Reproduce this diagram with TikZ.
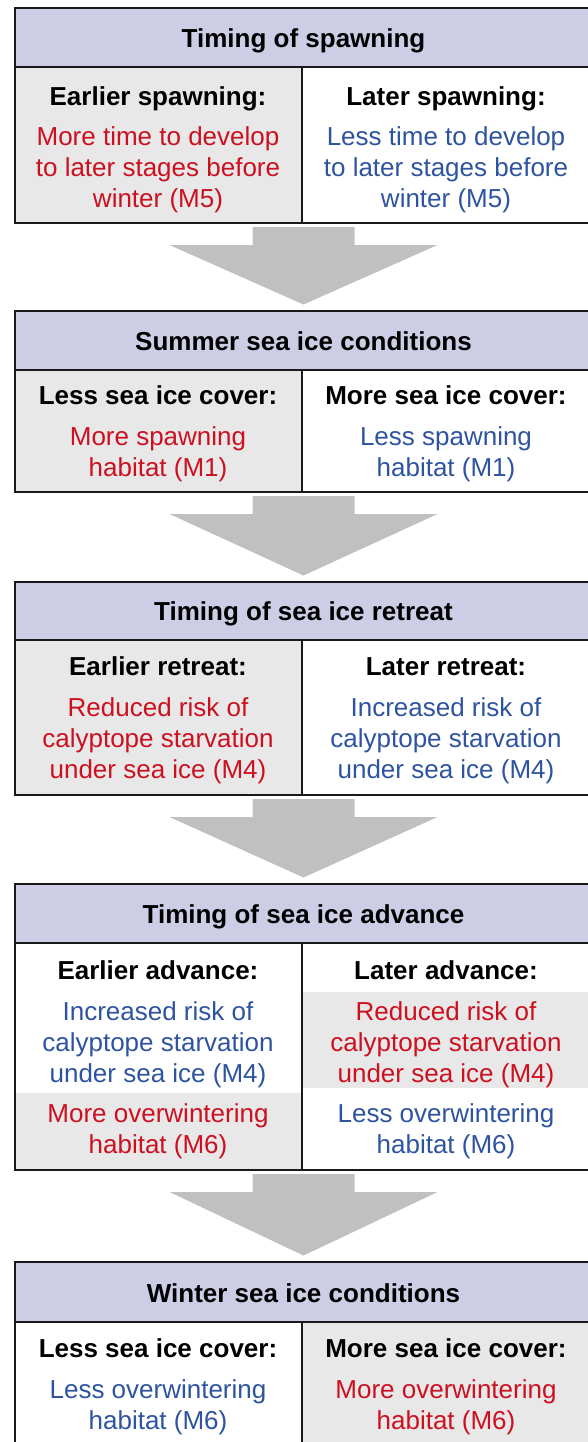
\documentclass[tikz,border=0pt]{standalone}
\usepackage{fontspec}
\setmainfont{Liberation Sans}
\usetikzlibrary{calc}
\definecolor{headfill}{RGB}{205,205,230}
\definecolor{cellgray}{RGB}{232,232,232}
\definecolor{arrowgray}{RGB}{192,192,192}
\definecolor{redtxt}{RGB}{204,16,32}
\definecolor{bluetxt}{RGB}{46,84,160}
\definecolor{linec}{RGB}{25,25,25}
\newcommand\blockarrow[2]{%
  \fill[arrowgray] ($(#1.south)+(-51,4)$) -- ($(#1.south)+(51,4)$) --
    ($(#1.south)+(51,22)$) -- ($(#1.south)+(134,22)$) --
    ($(#2.north)+(0,-6.5)$) -- ($(#1.south)+(-134,22)$) --
    ($(#1.south)+(-51,22)$) -- cycle;}
\begin{document}
\begin{tikzpicture}[x=1pt,y=-1pt,
  frame/.style={draw=linec,line width=2pt,minimum width=577pt,anchor=north west,inner sep=0pt,outer sep=0pt},
  rule/.style={draw=linec,line width=2pt},
  titletxt/.style={font=\fontsize{26}{31}\selectfont\bfseries,inner sep=0pt,align=center},
  redbody/.style={font=\fontsize{26}{31}\selectfont,text=redtxt,inner sep=0pt,align=center},
  bluebody/.style={font=\fontsize{26}{31}\selectfont,text=bluetxt,inner sep=0pt,align=center}]
\clip (0,0) rectangle (588,1442);
\useasboundingbox (0,0) rectangle (588,1442);
\fill[white] (0,0) rectangle (588,1442);
% ---------- box 1
\fill[headfill] (15,8) rectangle (592,67);
\fill[cellgray] (15,67) rectangle (302,223);
\node[frame,minimum height=215pt] (b1) at (15,8) {};
\draw[rule] (15,67) -- (592,67);
\draw[rule] (302,67) -- (302,223);
\node[titletxt] (t1) at (303.5,41) {\strut Timing of spawning};
\node[titletxt] (l1h) at (158,99) {\strut Earlier spawning:};
\node[titletxt] (r1h) at (446,99) {\strut Later spawning:};
\node[redbody] (l1b) at (158,170) {\strut More time to develop\\\strut to later stages before\\\strut winter (M5)};
\node[bluebody] (r1b) at (446,170) {\strut Less time to develop\\\strut to later stages before\\\strut winter (M5)};
% ---------- box 2
\fill[headfill] (15,311) rectangle (592,370);
\fill[cellgray] (15,370) rectangle (302,492);
\node[frame,minimum height=181pt] (b2) at (15,311) {};
\draw[rule] (15,370) -- (592,370);
\draw[rule] (302,370) -- (302,492);
\node[titletxt] (t2) at (303.5,344) {\strut Summer sea ice conditions};
\node[titletxt] (l2h) at (158,398) {\strut Less sea ice cover:};
\node[titletxt] (r2h) at (446,398) {\strut More sea ice cover:};
\node[redbody] (l2b) at (158,454.5) {\strut More spawning\\\strut habitat (M1)};
\node[bluebody] (r2b) at (446,454.5) {\strut Less spawning\\\strut habitat (M1)};
% ---------- box 3
\fill[headfill] (15,582) rectangle (592,640);
\fill[cellgray] (15,640) rectangle (302,795);
\node[frame,minimum height=213pt] (b3) at (15,582) {};
\draw[rule] (15,640) -- (592,640);
\draw[rule] (302,640) -- (302,795);
\node[titletxt] (t3) at (303.5,614) {\strut Timing of sea ice retreat};
\node[titletxt] (l3h) at (158,669) {\strut Earlier retreat:};
\node[titletxt] (r3h) at (446,669) {\strut Later retreat:};
\node[redbody] (l3b) at (158,741) {\strut Reduced risk of\\\strut calyptope starvation\\\strut under sea ice (M4)};
\node[bluebody] (r3b) at (446,741) {\strut Increased risk of\\\strut calyptope starvation\\\strut under sea ice (M4)};
% ---------- box 4
\fill[headfill] (15,884) rectangle (592,943);
\fill[cellgray] (302,992) rectangle (592,1088);
\fill[cellgray] (15,1093) rectangle (302,1170);
\node[frame,minimum height=286pt] (b4) at (15,884) {};
\draw[rule] (15,943) -- (592,943);
\draw[rule] (302,943) -- (302,1170);
\node[titletxt] (t4) at (303.5,917) {\strut Timing of sea ice advance};
\node[titletxt] (l4h) at (158,973) {\strut Earlier advance:};
\node[titletxt] (r4h) at (446,973) {\strut Later advance:};
\node[bluebody] (l4a) at (158,1045) {\strut Increased risk of\\\strut calyptope starvation\\\strut under sea ice (M4)};
\node[redbody] (r4a) at (446,1045) {\strut Reduced risk of\\\strut calyptope starvation\\\strut under sea ice (M4)};
\node[redbody] (l4b) at (158,1132) {\strut More overwintering\\\strut habitat (M6)};
\node[bluebody] (r4b) at (446,1132) {\strut Less overwintering\\\strut habitat (M6)};
% ---------- box 5
\fill[headfill] (15,1262) rectangle (592,1322);
\fill[cellgray] (302,1322) rectangle (592,1460);
\node[frame,minimum height=198pt] (b5) at (15,1262) {};
\draw[rule] (15,1322) -- (592,1322);
\draw[rule] (302,1322) -- (302,1460);
\node[titletxt] (t5) at (303.5,1296) {\strut Winter sea ice conditions};
\node[titletxt] (l5h) at (158,1351) {\strut Less sea ice cover:};
\node[titletxt] (r5h) at (446,1351) {\strut More sea ice cover:};
\node[bluebody] (l5b) at (158,1407.5) {\strut Less overwintering\\\strut habitat (M6)};
\node[redbody] (r5b) at (446,1407.5) {\strut More overwintering\\\strut habitat (M6)};
% ---------- arrows
\blockarrow{b1}{b2}
\blockarrow{b2}{b3}
\blockarrow{b3}{b4}
\blockarrow{b4}{b5}
\end{tikzpicture}
\end{document}
